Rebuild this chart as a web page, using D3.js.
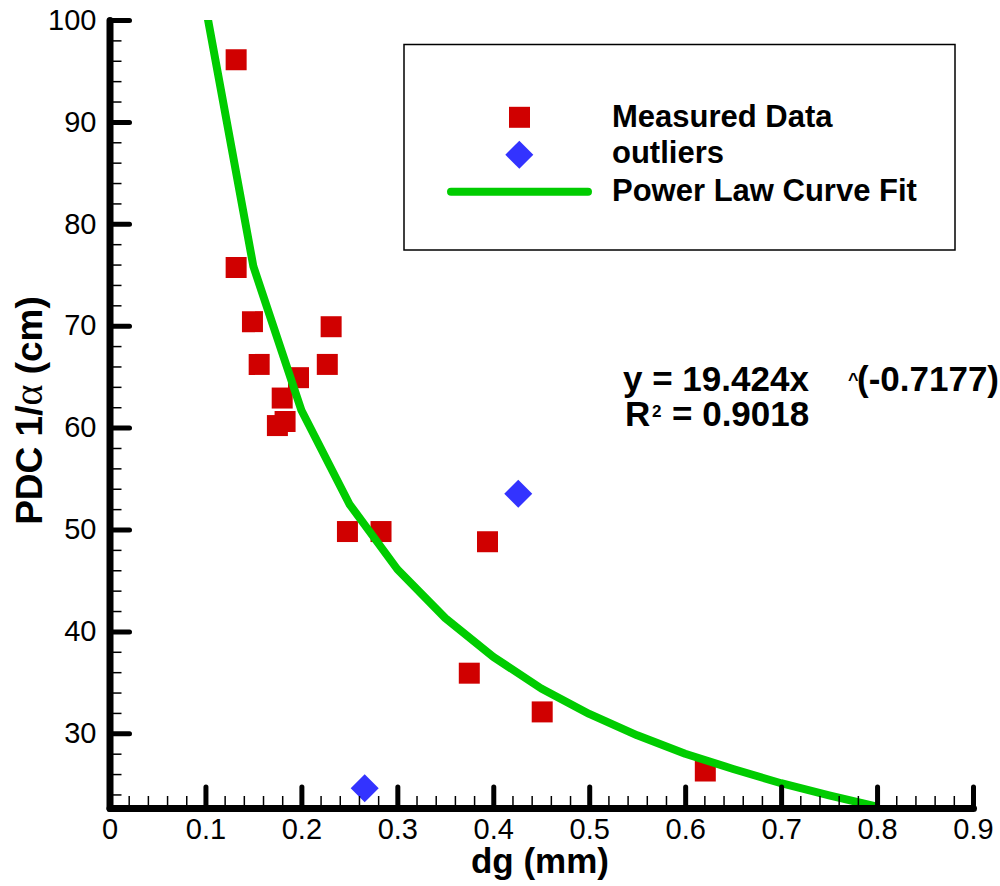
<!DOCTYPE html>
<html>
<head>
<meta charset="utf-8">
<script src="https://cdn.jsdelivr.net/npm/d3@7"></script>
<style>
  html, body { margin: 0; padding: 0; background: #fff; }
  svg { display: block; font-family: "Liberation Sans", Arial, Helvetica, sans-serif; }
</style>
</head>
<body>
<svg id="chart" width="1000" height="886"></svg>
<script>
// ---- data ----
const measuredX = [0.132, 0.132, 0.149, 0.156, 0.175, 0.180, 0.183, 0.197, 0.227, 0.231, 0.248, 0.283, 0.375, 0.394, 0.451, 0.621];
const measuredY = [96.1, 75.7, 70.4, 66.2, 60.2, 62.9, 60.6, 64.9, 66.2, 69.9, 49.8, 49.8, 35.9, 48.8, 32.1, 26.3];
const outlierX = [0.426, 0.266];
const outlierY = [53.5, 24.6];
const fitX = [0.10, 0.15, 0.20, 0.25, 0.30, 0.35, 0.40, 0.45, 0.50, 0.55, 0.60, 0.65, 0.70, 0.75, 0.80];
const fitY = [101.4, 75.8, 61.7, 52.5, 46.1, 41.3, 37.5, 34.4, 31.9, 29.8, 28.0, 26.5, 25.1, 23.9, 22.8];
const xTicks = [0, 0.1, 0.2, 0.3, 0.4, 0.5, 0.6, 0.7, 0.8, 0.9];
const xTickLabels = ["0", "0.1", "0.2", "0.3", "0.4", "0.5", "0.6", "0.7", "0.8", "0.9"];
const yTicks = [30, 40, 50, 60, 70, 80, 90, 100];
const yTickLabels = ["30", "40", "50", "60", "70", "80", "90", "100"];
const legendLabels = ["Measured Data", "outliers", "Power Law Curve Fit"];
const xTitle = "dg (mm)";
const eqLine1 = "y = 19.424x";
const eqCaret = "^";
const eqLine1b = "(-0.7177)";
const eqLine2a = "R";
const eqLine2sup = "2";
const eqLine2b = "= 0.9018";

const RED = "#d00000", BLUE = "#3333ff", GREEN = "#00cc00";

const svg = d3.select("#chart");
const x = d3.scaleLinear().domain([0, 0.9]).range([109.5, 973]);
const y = d3.scaleLinear().domain([22.67, 100]).range([808, 20]);

// clip for plot area
svg.append("defs").append("clipPath").attr("id", "plotclip")
  .append("rect")
  .attr("x", x(0)).attr("y", y(100))
  .attr("width", x(0.9) - x(0)).attr("height", y(22.67) - y(100));

const plot = svg.append("g").attr("clip-path", "url(#plotclip)");

const measured = measuredX.map((v, i) => ({x: v, y: measuredY[i]}));
const outliers = outlierX.map((v, i) => ({x: v, y: outlierY[i]}));
const fit = fitX.map((v, i) => ({x: v, y: fitY[i]}));

const sq = d3.symbol().type(d3.symbolSquare).size(441);
const dia = d3.symbol().type(d3.symbolSquare).size(392);

plot.selectAll("path.meas").data(measured).join("path")
  .attr("class", "meas")
  .attr("d", sq)
  .attr("transform", d => `translate(${x(d.x)},${y(d.y)})`)
  .attr("fill", RED);

plot.selectAll("path.out").data(outliers).join("path")
  .attr("class", "out")
  .attr("d", dia)
  .attr("transform", d => `translate(${x(d.x)},${y(d.y)}) rotate(45)`)
  .attr("fill", BLUE);

plot.append("path")
  .datum(fit)
  .attr("d", d3.line().x(d => x(d.x)).y(d => y(d.y)))
  .attr("fill", "none")
  .attr("stroke", GREEN)
  .attr("stroke-width", 8)
  .attr("stroke-linejoin", "round");

// ---- axes ----
const yMinor = d3.range(24, 100, 2).filter(v => v % 10 !== 0);
const xMinor = d3.range(1, 45).map(i => i * 0.02).filter((v, i) => (i + 1) % 5 !== 0);

const gyMinor = svg.append("g").attr("transform", `translate(${x(0)},0)`)
  .call(d3.axisLeft(y).tickValues(yMinor).tickSizeInner(-12).tickSizeOuter(0).tickFormat(""));
gyMinor.select(".domain").remove();
gyMinor.selectAll(".tick line").attr("stroke", "#000").attr("stroke-width", 1.5);

const gxMinor = svg.append("g").attr("transform", `translate(0,${y(22.67)})`)
  .call(d3.axisBottom(x).tickValues(xMinor).tickSizeInner(-12).tickSizeOuter(0).tickFormat(""));
gxMinor.select(".domain").remove();
gxMinor.selectAll(".tick line").attr("stroke", "#000").attr("stroke-width", 1.5);

const gy = svg.append("g").attr("transform", `translate(${x(0)},0)`)
  .call(d3.axisLeft(y).tickValues(yTicks).tickSizeInner(-20).tickSizeOuter(0).tickPadding(13)
    .tickFormat((d, i) => yTickLabels[i]));
gy.selectAll(".tick line").attr("stroke", "#000").attr("stroke-width", 5).attr("stroke-linecap", "round");
gy.selectAll(".tick text").attr("font-size", 29).attr("font-family", "Liberation Sans, Arial, sans-serif").attr("fill", "#000");
gy.select(".domain").attr("stroke", "#000").attr("stroke-width", 7).attr("stroke-linecap", "round");

const gx = svg.append("g").attr("transform", `translate(0,${y(22.67)})`)
  .call(d3.axisBottom(x).tickValues(xTicks).tickSizeInner(-21).tickSizeOuter(0).tickPadding(10)
    .tickFormat((d, i) => xTickLabels[i]));
gx.selectAll(".tick line").attr("stroke", "#000").attr("stroke-width", 5).attr("stroke-linecap", "round");
gx.selectAll(".tick").filter(d => d === 0).select("line").remove();
gx.selectAll(".tick text").attr("font-size", 29).attr("font-family", "Liberation Sans, Arial, sans-serif").attr("fill", "#000");
gx.select(".domain").attr("stroke", "#000").attr("stroke-width", 7).attr("stroke-linecap", "round");

// ---- axis titles ----
svg.append("text")
  .attr("x", 540).attr("y", 873)
  .attr("text-anchor", "middle")
  .attr("font-size", 35).attr("font-weight", "bold")
  .text(xTitle);

const yt = svg.append("text")
  .attr("transform", "translate(42,410.5) rotate(-90)")
  .attr("text-anchor", "middle")
  .attr("font-size", 37).attr("font-weight", "bold");
yt.append("tspan").text("PDC 1/");
yt.append("tspan").attr("font-family", "Liberation Serif, Times New Roman, serif").attr("font-weight", "normal").attr("font-size", 40).text("α");
yt.append("tspan").text(" (cm)");

// ---- legend ----
const lg = svg.append("g");
lg.append("rect").attr("x", 404).attr("y", 44.5).attr("width", 551).attr("height", 205.5)
  .attr("fill", "#fff").attr("stroke", "#000").attr("stroke-width", 1.5);
lg.append("path").attr("d", sq).attr("transform", "translate(519.5,117.3)").attr("fill", RED);
lg.append("path").attr("d", dia).attr("transform", "translate(519.3,154.7) rotate(45)").attr("fill", BLUE);
lg.append("line").attr("x1", 451).attr("x2", 588).attr("y1", 191.7).attr("y2", 191.7)
  .attr("stroke", GREEN).attr("stroke-width", 8).attr("stroke-linecap", "round");
const lgBase = [127, 163, 201];
lg.selectAll("text.lbl").data(legendLabels).join("text")
  .attr("class", "lbl")
  .attr("x", 612).attr("y", (d, i) => lgBase[i])
  .attr("font-size", 31).attr("font-weight", "bold")
  .text(d => d);

// ---- equation ----
const eq = svg.append("g").attr("font-weight", "bold");
eq.append("text").attr("x", 623).attr("y", 391).attr("font-size", 35).text(eqLine1);
eq.append("text").attr("x", 848).attr("y", 386).attr("font-size", 18).text(eqCaret);
eq.append("text").attr("x", 857).attr("y", 391).attr("font-size", 35).text(eqLine1b);
eq.append("text").attr("x", 625).attr("y", 426).attr("font-size", 35).text(eqLine2a);
eq.append("text").attr("x", 652).attr("y", 417).attr("font-size", 17).text(eqLine2sup);
eq.append("text").attr("x", 672).attr("y", 426).attr("font-size", 35).text(eqLine2b);
</script>
</body>
</html>
